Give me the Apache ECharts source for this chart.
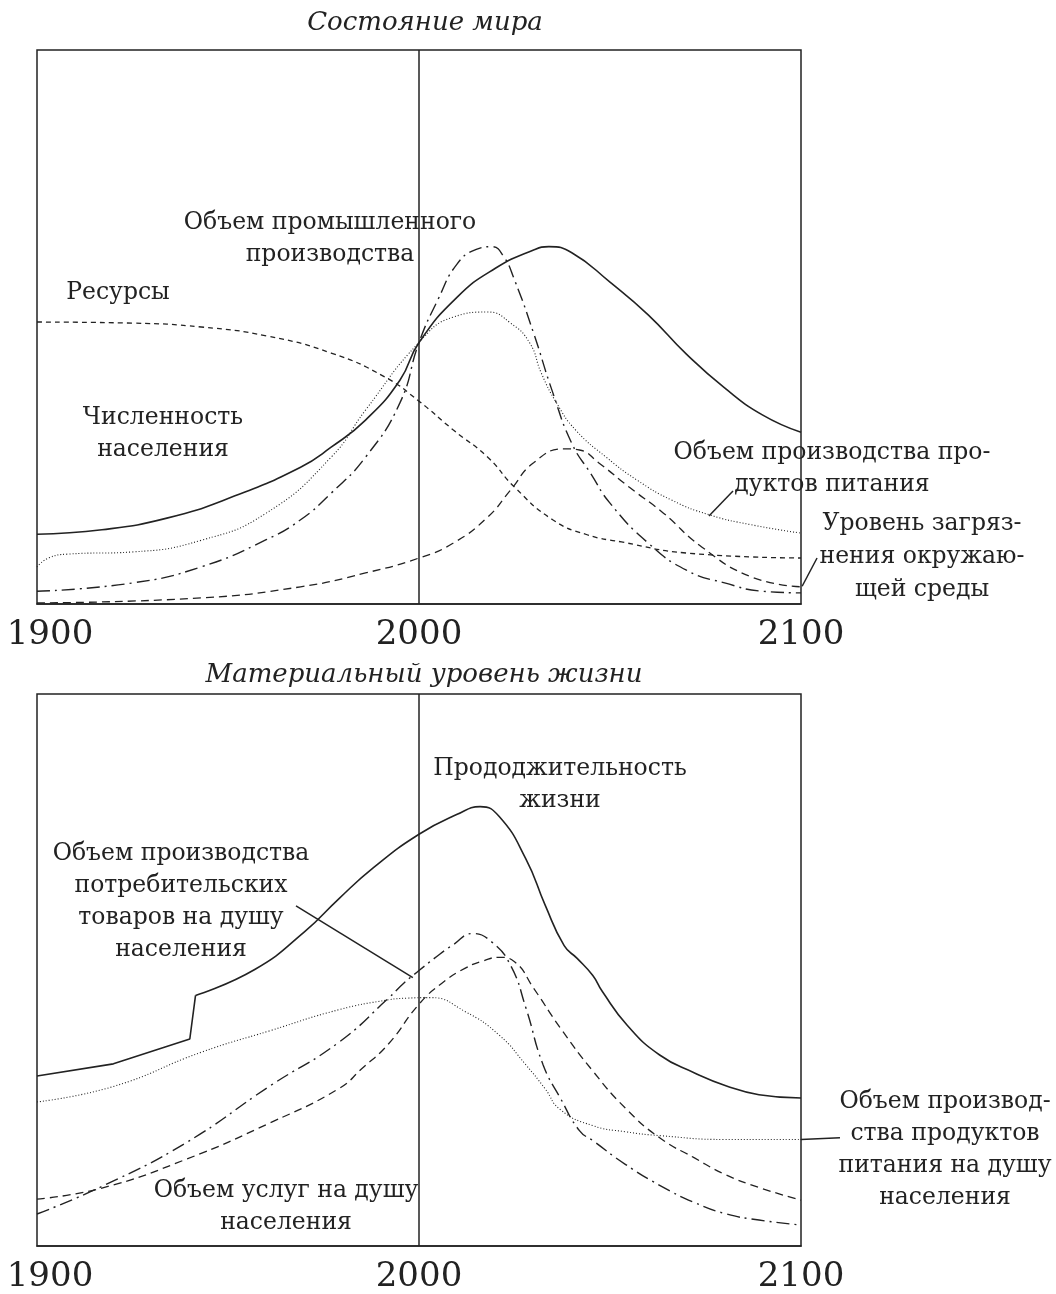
<!DOCTYPE html>
<html>
<head>
<meta charset="utf-8">
<title>Состояние мира</title>
<script src="https://cdn.jsdelivr.net/npm/echarts@6/dist/echarts.min.js"></script>
<style>
  html, body { margin: 0; padding: 0; background: #fff; }
  #chart { width: 1056px; height: 1294px; }
</style>
</head>
<body>
<div id="chart"></div>
<script>
// --- верхний график: состояние мира ---
const popYears = [1900, 1917, 1934, 1951, 1969, 1977, 1986, 1995, 2000, 2010, 2020, 2030, 2034, 2040, 2050, 2060, 2070, 2080, 2090, 2100];
const popValues = [12.6, 13.4, 15.5, 19.3, 24.7, 28.3, 33.2, 40.4, 47.2, 55.4, 60.6, 63.9, 64.5, 63.4, 58.1, 52.2, 45.1, 39.0, 34.1, 31.0];

const indYears = [1900, 1925, 1943, 1960, 1969, 1977, 1986, 1995, 2000, 2005, 2010, 2015, 2019, 2022, 2025, 2030, 2035, 2040, 2045, 2050, 2060, 2070, 2080, 2090, 2100];
const indValues = [2.3, 3.8, 6.7, 11.6, 15.2, 20.0, 26.5, 36.3, 47.2, 55.0, 61.4, 64.0, 64.5, 62.9, 58.5, 48.9, 38.2, 29.0, 23.5, 18.2, 11.0, 6.1, 3.8, 2.3, 2.0];

const foodYears = [1900, 1903, 1908, 1925, 1943, 1960, 1977, 1986, 2000, 2009, 2018, 2024, 2029, 2032, 2036, 2041, 2049, 2057, 2066, 2076, 2087, 2100];
const foodValues = [6.7, 8.3, 9.0, 9.4, 11.5, 16.4, 26.5, 35.0, 47.2, 51.8, 52.7, 50.7, 47.1, 41.7, 36.3, 31.4, 26.5, 22.4, 18.8, 16.1, 14.3, 12.8];

const resYears = [1900, 1925, 1943, 1960, 1977, 1991, 2000, 2009, 2018, 2025, 2035, 2044, 2053, 2070, 2100];
const resValues = [50.9, 50.7, 50.0, 48.4, 45.3, 41.0, 36.6, 31.4, 26.5, 21.1, 15.2, 12.5, 11.2, 9.2, 8.3];

const polYears = [1900, 1943, 1969, 1986, 2000, 2009, 2018, 2024, 2030, 2038, 2042, 2047, 2055, 2064, 2074, 2087, 2100];
const polValues = [0.2, 1.1, 3.1, 5.6, 8.3, 11.0, 15.7, 20.6, 25.5, 28.0, 27.8, 25.5, 21.1, 16.4, 10.3, 4.9, 3.1];

// --- нижний график: материальный уровень жизни ---
// до скачка около 1941 г. линия ломаная, после него плавная
const lifeYears = [1900, 1920, 1940, 1941.5, 1957, 1970, 1979, 1988, 2000, 2010, 2016, 2021, 2028, 2033, 2038, 2041.4, 2045.5, 2048, 2054.5, 2063, 2072, 2080.5, 2089, 2100];
const lifeValues = [30.8, 33.0, 37.5, 45.4, 50.1, 56.9, 62.9, 68.5, 74.6, 78.2, 79.6, 77.8, 70.1, 61.8, 54.4, 52.1, 49.0, 46.1, 40.0, 34.6, 31.4, 29.0, 27.4, 26.8];
const lifeJumpYear = 1941.5;

const goodsYears = [1900, 1917, 1939, 1961, 1979, 1992, 1996, 2000, 2004, 2009, 2014, 2019, 2024, 2028, 2032.5, 2037, 2042, 2045.5, 2054, 2063, 2072, 2080.5, 2089, 2100];
const goodsValues = [5.8, 10.8, 18.7, 29.0, 36.9, 44.9, 47.6, 49.9, 52.1, 54.6, 56.6, 55.1, 50.8, 43.1, 32.8, 26.8, 20.9, 19.1, 14.8, 11.0, 7.9, 5.8, 4.7, 3.8];

const servYears = [1900, 1917, 1939, 1961, 1979, 1985, 1992, 2000, 2006, 2012, 2017, 2021, 2025, 2030, 2037, 2045.5, 2054, 2063, 2072, 2080, 2089, 2100];
const servValues = [8.5, 10.5, 15.7, 22.3, 28.5, 32.1, 36.6, 43.8, 47.6, 50.3, 51.7, 52.3, 51.5, 46.7, 39.5, 31.7, 25.0, 19.6, 16.0, 13.0, 10.6, 8.3];

const foodPcYears = [1900, 1920, 1943, 1961, 1979, 1992, 1997, 2003, 2012, 2021, 2028, 2033, 2037, 2045.5, 2054, 2063, 2080, 2100];
const foodPcValues = [26.1, 28.9, 35.1, 39.0, 42.8, 44.6, 44.9, 45.0, 42.5, 38.2, 32.8, 28.5, 24.7, 21.8, 20.7, 20.0, 19.3, 19.3];

const axisTicks = [1900, 2000, 2100];

const INK = '#222';
const FONT = '"DejaVu Serif", "Liberation Serif", serif';

const zip = (xs, ys) => xs.map((x, i) => [x, ys[i]]);

const DASH_DOT = [13, 5, 2, 5];
const DOTTED = [1, 2];
const SHORT_DASH = [5, 4];
const LONG_DASH = [8, 5];

function curve(name, grid, points, dash, width, smooth) {
  return {
    name,
    type: 'line',
    xAxisIndex: grid,
    yAxisIndex: grid,
    data: points,
    showSymbol: false,
    smooth: smooth === undefined ? 0.5 : smooth,
    silent: true,
    lineStyle: { color: INK, width: width || 1.5, type: dash || 'solid' }
  };
}

const vline = {
  silent: true,
  symbol: 'none',
  label: { show: false },
  lineStyle: { color: INK, width: 1.5, type: 'solid' },
  data: [{ xAxis: 2000 }]
};

function xAxis(grid) {
  return {
    type: 'value',
    gridIndex: grid,
    min: 1900,
    max: 2100,
    interval: 100,
    axisLine: { show: true, lineStyle: { color: INK, width: 1.5 } },
    axisTick: { show: false },
    splitLine: { show: false },
    axisLabel: {
      margin: 14,
      formatter: v => axisTicks.includes(v) ? (v === 1900 ? '{first|' + v + '}' : '{n|' + v + '}') : '',
      rich: {
        first: { fontFamily: FONT, fontSize: 34, color: INK, padding: [0, 0, 0, 26] },
        n: { fontFamily: FONT, fontSize: 34, color: INK }
      }
    }
  };
}

function yAxis(grid) {
  return {
    type: 'value',
    gridIndex: grid,
    min: 0,
    max: 100,
    axisLine: { show: false },
    axisTick: { show: false },
    axisLabel: { show: false },
    splitLine: { show: false }
  };
}

const chart = echarts.init(document.getElementById('chart'), null, { renderer: 'canvas' });

const lifePoints = zip(lifeYears, lifeValues);
const lifeEarly = lifePoints.filter(p => p[0] <= lifeJumpYear);
const lifeLate = lifePoints.filter(p => p[0] >= lifeJumpYear);

const popSeries = curve('Численность населения', 0, zip(popYears, popValues), 'solid', 1.6);
popSeries.markLine = vline;
const lifeSeries = curve('Продолжительность жизни', 1, lifeLate, 'solid', 1.6);
lifeSeries.markLine = vline;

chart.setOption({
  backgroundColor: '#fff',
  animation: false,
  grid: [
    { left: 37, top: 50, width: 764, height: 554, show: true, borderColor: INK, borderWidth: 1.5, backgroundColor: 'transparent' },
    { left: 37, top: 694, width: 764, height: 555, show: true, borderColor: INK, borderWidth: 1.5, backgroundColor: 'transparent' }
  ],
  xAxis: [xAxis(0), xAxis(1)],
  yAxis: [yAxis(0), yAxis(1)],
  series: [
    popSeries,
    curve('Объем промышленного производства', 0, zip(indYears, indValues), DASH_DOT, 1.4),
    curve('Объем производства продуктов питания', 0, zip(foodYears, foodValues), DOTTED, 1.1),
    curve('Ресурсы', 0, zip(resYears, resValues), SHORT_DASH, 1.3),
    curve('Уровень загрязнения окружающей среды', 0, zip(polYears, polValues), LONG_DASH, 1.3),
    curve('Продолжительность жизни (до 1941)', 1, lifeEarly, 'solid', 1.6, false),
    lifeSeries,
    curve('Объем производства потребительских товаров на душу населения', 1, zip(goodsYears, goodsValues), DASH_DOT, 1.4),
    curve('Объем услуг на душу населения', 1, zip(servYears, servValues), LONG_DASH, 1.3),
    curve('Объем производства продуктов питания на душу населения', 1, zip(foodPcYears, foodPcValues), DOTTED, 1.1)
  ]
});

// подписи и выноски
const text = (str, x, y, opts) => Object.assign({
  type: 'text',
  silent: true,
  style: Object.assign({
    text: str, x, y,
    fill: INK,
    font: '23.5px ' + FONT,
    align: 'center',
    verticalAlign: 'middle',
    lineHeight: 32
  }, opts || {})
});

function pointer(grid, from, to) {
  const a = chart.convertToPixel({ gridIndex: grid }, from);
  const b = chart.convertToPixel({ gridIndex: grid }, to);
  return {
    type: 'line', silent: true,
    shape: { x1: a[0], y1: a[1], x2: b[0], y2: b[1] },
    style: { stroke: INK, lineWidth: 1.5 }
  };
}

chart.setOption({
  graphic: [
    text('Состояние мира', 425, 23, { font: 'italic 26px ' + FONT }),
    text('Материальный уровень жизни', 424, 675, { font: 'italic 26px ' + FONT }),

    text('Объем промышленного\nпроизводства', 330, 239),
    text('Ресурсы', 118, 293),
    text('Численность\nнаселения', 163, 434),
    text('Объем производства про-\nдуктов питания', 832, 469),
    text('Уровень загряз-\nнения окружаю-\nщей среды', 922, 557, { lineHeight: 33 }),

    text('Прододжительность\nжизни', 560, 785),
    text('Объем производства\nпотребительских\nтоваров на душу\nнаселения', 181, 902),
    text('Объем услуг на душу\nнаселения', 286, 1207),
    text('Объем производ-\nства продуктов\nпитания на душу\nнаселения', 945, 1150),

    pointer(0, [2075.9, 15.9], [2082.2, 20.4]),
    pointer(0, [2100.3, 3.2], [2104.2, 8.3]),
    pointer(1, [1967.8, 61.6], [1998.4, 48.6]),
    pointer(1, [2100, 19.3], [2110.2, 19.6])
  ]
});
</script>
</body>
</html>
